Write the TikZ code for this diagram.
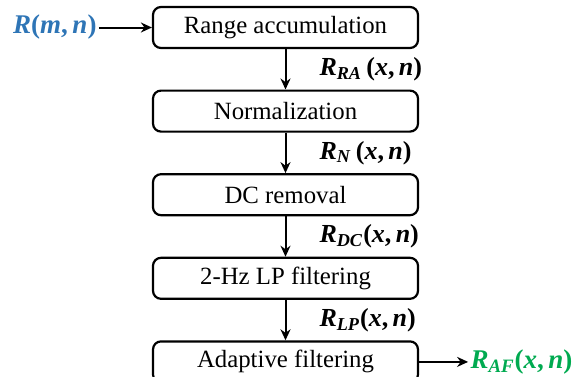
\documentclass[tikz,border=0pt]{standalone}
\usepackage{amsmath}
\usepackage{fontspec}
\setmainfont{Liberation Serif}
\definecolor{InBlue}{RGB}{46,117,182}
\definecolor{OutGreen}{RGB}{0,170,80}
\usepackage{tikz}
\usetikzlibrary{positioning,arrows.meta}
\newcommand{\sgnl}[3]{\textbf{\textit{R}\textsubscript{\textit{#1}}#2(\textit{#3},\,\textit{n})}}

\begin{document}
\begin{tikzpicture}[
      every node/.style={font=\fontsize{12.4}{14}\selectfont, align=center},
      stage/.style={draw, line width=1.1pt, rounded corners=4pt,
                    minimum width=132.5pt, minimum height=20.5pt, inner sep=2pt},
      sig/.style={font=\fontsize{13}{15}\selectfont, inner sep=1pt},
      flow/.style={-{Stealth[length=5.5pt,width=5pt]}, line width=1pt}
  ]
    \useasboundingbox (0,0) rectangle (286.5pt,-188pt);
    \node[stage] (acc) at (142.75pt,-13.75pt) {Range accumulation};
    \node[stage, below=20.2pt of acc] (norm) {Normalization};
    \node[stage, below=20.2pt of norm] (dcr) {DC removal};
    \node[stage, below=20.2pt of dcr] (lpf) {2-Hz LP filtering};
    \node[stage, below=20.2pt of lpf] (adf) {Adaptive filtering};
    \node[sig, font=\fontsize{13.5}{15}\selectfont, text=InBlue, left=26.5pt of acc] (rin) {\textbf{\textit{R}(\textit{m},\,\textit{n})}};
    \node[sig, font=\fontsize{13.5}{15}\selectfont, text=OutGreen, right=24.5pt of adf] (rout) {\sgnl{AF}{}{x}};
    \draw[flow] (rin) -- (acc);
    \draw[flow] (acc) -- node[sig, right=15.5pt] {\sgnl{RA}{\,}{x}} (norm);
    \draw[flow] (norm) -- node[sig, right=15.5pt] {\sgnl{N}{\,}{x}} (dcr);
    \draw[flow] (dcr) -- node[sig, right=15.5pt] {\sgnl{DC}{}{x}} (lpf);
    \draw[flow] (lpf) -- node[sig, right=15.5pt] {\sgnl{LP}{}{x}} (adf);
    \draw[flow] (adf) -- (rout);
  \end{tikzpicture}
\end{document}
